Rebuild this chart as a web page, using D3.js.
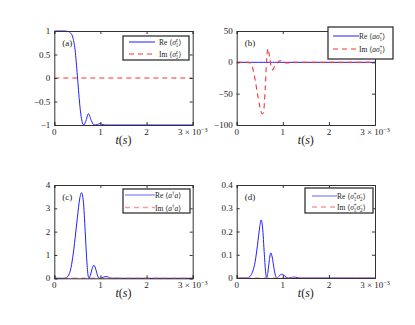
<!DOCTYPE html>
<html><head><meta charset="utf-8">
<script src="https://cdn.jsdelivr.net/npm/d3@7"></script>
<style>
html,body{margin:0;padding:0;background:#fff;}
svg{display:block;}
text{font-family:"Liberation Serif","DejaVu Serif",serif;fill:#222;}
</style></head>
<body>
<svg id="c" width="415" height="325"></svg>
<script>
// ---- data (t in units of 1e-3 s) ----
const tA = [0,0.2,0.3,0.35,0.4,0.45,0.5,0.55,0.6,0.64,0.68,0.74,0.8,0.86,0.93,0.99,1.05,1.12,3];
const reSz = [1,1,0.99,0.96,0.87,0.6,0.05,-0.55,-0.92,-1,-0.93,-0.76,-0.9,-1,-0.99,-0.97,-0.99,-1,-1];
const imSz = [0,0,0,0,0,0,0,0,0,0,0,0,0,0,0,0,0,0,0];

const tB = [0,0.25,0.3,0.35,0.4,0.45,0.5,0.55,0.58,0.62,0.65,0.68,0.71,0.75,0.78,0.82,0.87,0.92,0.98,1.03,1.1,1.2,1.3,3];
const reAs = tB.map(() => 0);
const imAs = [0,0,-2,-10,-28,-50,-70,-82,-80,-40,5,22,10,-8,-12,-7,-2,2,3,0,-1,0.5,0,0];

const tC = [0,0.2,0.25,0.3,0.35,0.4,0.45,0.5,0.55,0.59,0.63,0.67,0.7,0.73,0.75,0.78,0.82,0.86,0.9,0.94,0.97,1.02,1.08,1.12,1.17,1.22,1.27,1.35,1.42,3];
const reAa = [0,0,0.02,0.1,0.35,0.9,1.7,2.6,3.4,3.67,3.3,2.0,0.9,0.15,0,0.12,0.42,0.56,0.38,0.1,0,0.02,0.06,0.075,0.05,0.01,0,0.01,0,0];
const imAa = tC.map(() => 0);

const tD = [0,0.2,0.25,0.3,0.35,0.4,0.45,0.5,0.53,0.56,0.6,0.63,0.65,0.68,0.71,0.74,0.77,0.81,0.85,0.87,0.92,0.97,1.02,1.07,1.12,1.18,1.25,1.32,1.38,3];
const reSS = [0,0,0.002,0.01,0.03,0.07,0.14,0.22,0.25,0.22,0.1,0.02,0,0.03,0.08,0.108,0.09,0.04,0.005,0,0.008,0.016,0.013,0.004,0,0.002,0.004,0.001,0,0];
const imSS = tD.map(() => 0);

const xTicks = [0,1,2,3];
const yTicksA = [-1,-0.5,0,0.5,1];
const yTicksB = [-100,-50,0,50];
const yTicksC = [0,1,2,3,4];
const yTicksD = [0,0.1,0.2,0.3,0.4];

const svg = d3.select("#c");
const BLUE = "#1f1fff", RED = "#ff3030";

function fmtY(v){ return (v<0?"\u2212":"") + Math.abs(v); }

// math text builder
function mathText(g, x, y, parts, size){
  const t = g.append("text").attr("x", x).attr("y", y).attr("font-size", size);
  let off = 0, lastW = 0;
  parts.forEach(p => {
    const s = t.append("tspan").text(p.t);
    let target = 0;
    if (p.sup) target = -0.38*size;
    if (p.sub) target = 0.25*size;
    s.attr("dy", target - off);
    off = target;
    if (p.sup || p.sub) s.attr("font-size", size*0.68);
    if (p.i) s.attr("font-style", "italic");
    if (p.back) s.attr("dx", -lastW);
    lastW = s.node().getComputedTextLength();
  });
  return t;
}

function panel(o){
  const g = svg.append("g");
  const x = d3.scaleLinear().domain([0,3]).range([o.l, o.r]);
  const y = d3.scaleLinear().domain(o.yd).range([o.b, o.t]);
  // frame
  g.append("rect").attr("x", o.l).attr("y", o.t).attr("width", o.r-o.l).attr("height", o.b-o.t)
    .attr("fill", "#fff").attr("stroke", "none");
  const clip = "clip"+o.id;
  g.append("clipPath").attr("id", clip).append("rect")
    .attr("x", o.l).attr("y", o.t-1).attr("width", o.r-o.l).attr("height", o.b-o.t+2);
  const line = (ts, vs) => d3.line().x((d,i)=>x(ts[i])).y(d=>y(d)).curve(d3.curveMonotoneX)(vs);
  const plot = g.append("g").attr("clip-path", `url(#${clip})`);
  plot.append("path").attr("d", line(o.ts, o.re)).attr("fill","none").attr("stroke", BLUE).attr("stroke-width", 1);
  plot.append("path").attr("d", line(o.ts, o.im)).attr("fill","none")
    .attr("stroke", o.imLight ? "#ff8080" : RED).attr("stroke-width", o.imLight ? 1.6 : 1.1)
    .attr("stroke-opacity", o.imLight ? 0.8 : 1)
    .attr("stroke-dasharray", "5,4");
  // axes
  const axB = d3.axisBottom(x).tickValues(xTicks).tickSize(-3).tickPadding(4).tickFormat(()=> "");
  const axT = d3.axisTop(x).tickValues(xTicks).tickSize(-3).tickFormat(()=> "");
  const axL = d3.axisLeft(y).tickValues(o.yt).tickSize(-3).tickFormat(()=> "");
  const axR = d3.axisRight(y).tickValues(o.yt).tickSize(-3).tickFormat(()=> "");
  [[axB,`translate(0,${o.b})`],[axT,`translate(0,${o.t})`],[axL,`translate(${o.l},0)`],[axR,`translate(${o.r},0)`]]
    .forEach(([a,tr]) => {
      const ag = g.append("g").attr("transform", tr).call(a);
      ag.select(".domain").attr("stroke", "#333").attr("stroke-width", 1);
      ag.selectAll(".tick line").attr("stroke", "#333");
    });
  // tick labels
  xTicks.forEach(v => {
    if (v === 3) {
      mathText(g, x(v), o.b+10, [{t:"3 \u00d7 10"},{t:"\u22123", sup:true}], 9).attr("text-anchor","middle");
    } else {
      g.append("text").attr("x", x(v)).attr("y", o.b+10).attr("text-anchor","middle").attr("font-size", 9).text(v);
    }
  });
  o.yt.forEach(v => {
    g.append("text").attr("x", o.l-4).attr("y", y(v)+3).attr("text-anchor","end").attr("font-size", 9).text(fmtY(v));
  });
  // axis label
  mathText(g, (o.l+o.r)/2, o.b+19, [{t:"t", i:true},{t:"("},{t:"s", i:true},{t:")"}], 12).attr("text-anchor","middle");
  // panel label
  g.append("text").attr("x", o.l+8).attr("y", o.t+15).attr("font-size", 9).text(o.lab);
  // legend
  const L = o.leg;
  g.append("rect").attr("x", L.x).attr("y", L.y).attr("width", L.w).attr("height", L.h)
    .attr("fill", "#fff").attr("stroke", "#333").attr("stroke-width", 1.3);
  g.append("line").attr("x1", L.l1).attr("x2", L.l2).attr("y1", L.r1).attr("y2", L.r1)
    .attr("stroke", BLUE).attr("stroke-width", 1).attr("stroke-opacity", o.imLight?0.7:1);
  g.append("line").attr("x1", L.l1).attr("x2", L.l2).attr("y1", L.r2).attr("y2", L.r2)
    .attr("stroke", o.imLight ? "#ff8080" : RED).attr("stroke-width", o.imLight?1.6:1.1)
    .attr("stroke-opacity", o.imLight?0.8:1).attr("stroke-dasharray", "5,4");
  mathText(g, L.tx, L.r1+3, [{t:"Re "}].concat(o.sym), 7.5);
  mathText(g, L.tx, L.r2+3, [{t:"Im "}].concat(o.sym), 7.5);
}

const symA = [{t:"\u27e8"},{t:"\u03c3", i:true},{t:"z", sup:true, i:true},{t:"1", sub:true, back:true},{t:"\u27e9"}];
const symB = [{t:"\u27e8"},{t:"a\u03c3", i:true},{t:"+", sup:true},{t:"1", sub:true, back:true},{t:"\u27e9"}];
const symC = [{t:"\u27e8"},{t:"a", i:true},{t:"\u2020", sup:true},{t:"a", i:true},{t:"\u27e9"}];
const symD = [{t:"\u27e8"},{t:"\u03c3", i:true},{t:"+", sup:true},{t:"1", sub:true, back:true},{t:"\u03c3", i:true},{t:"\u2212", sup:true},{t:"2", sub:true, back:true},{t:"\u27e9"}];

panel({id:"a", l:54.3, r:192.7, t:31, b:125, yd:[-1,1], yt:yTicksA, ts:tA, re:reSz, im:imSz, lab:"(a)", sym:symA,
  leg:{x:123, y:36, w:66, h:24, l1:129, l2:155, tx:159, r1:42, r2:54}});
panel({id:"b", l:236.7, r:375, t:31, b:125, yd:[-100,50], yt:yTicksB, ts:tB, re:reAs, im:imAs, lab:"(b)", sym:symB,
  leg:{x:328, y:27, w:65, h:32, l1:333, l2:359, tx:359, r1:36, r2:49}});
panel({id:"c", l:54.3, r:192.7, t:185, b:278.3, yd:[0,4], yt:yTicksC, ts:tC, re:reAa, im:imAa, lab:"(c)", sym:symC, imLight:true,
  leg:{x:123, y:189, w:67, h:24, l1:125, l2:155, tx:155, r1:195, r2:207.5}});
panel({id:"d", l:236.7, r:375, t:185, b:278, yd:[0,0.4], yt:yTicksD, ts:tD, re:reSS, im:imSS, lab:"(d)", sym:symD, imLight:true,
  leg:{x:305, y:188, w:68, h:25, l1:312, l2:337, tx:337, r1:196, r2:207}});
</script>
</body></html>
